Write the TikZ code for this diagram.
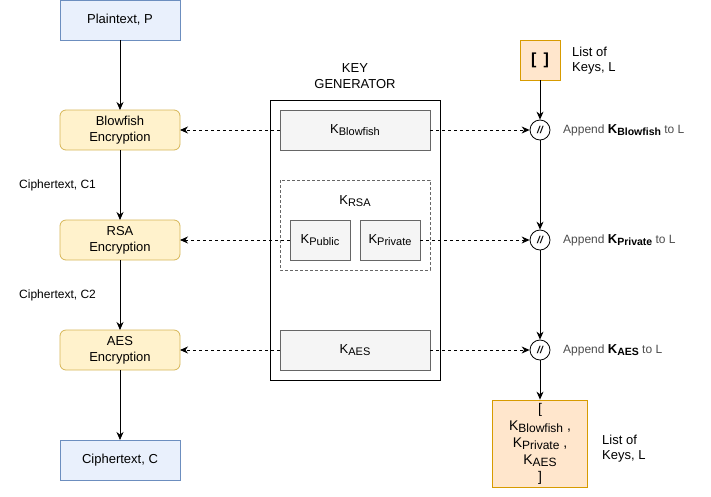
\documentclass[tikz,border=0pt]{standalone}
\usepackage{fontspec}
\setmainfont{Liberation Sans}
\usetikzlibrary{arrows.meta}
\definecolor{bluefill}{HTML}{E9F0FC}
\definecolor{bluedraw}{HTML}{6C8EBF}
\definecolor{yelfill}{HTML}{FFF2CC}
\definecolor{yeldraw}{HTML}{D6B656}
\definecolor{orfill}{HTML}{FFE6CC}
\definecolor{ordraw}{HTML}{D79B00}
\definecolor{greyfill}{HTML}{F5F5F5}
\definecolor{greydraw}{HTML}{666666}
\definecolor{softtext}{HTML}{4D4D4D}
\newcommand\Kreg[1]{K\raisebox{-0.35ex}{\fontsize{11}{11}\selectfont #1}}
\newcommand\Kbig[1]{K\raisebox{-0.35ex}{\fontsize{12}{12}\selectfont #1}}
\newcommand\Kbold[1]{{\color{black}\fontsize{13}{13}\selectfont\bfseries K\raisebox{-0.35ex}{\fontsize{10.5}{10.5}\selectfont\bfseries #1}}}
\begin{document}
\begin{tikzpicture}[x=1pt,y=-1pt,
  every node/.style={font=\fontsize{13}{16}\selectfont, inner sep=0pt},
  flowbox/.style={draw=bluedraw, fill=bluefill, line width=0.8pt},
  encbox/.style={draw=yeldraw, fill=yelfill, line width=0.8pt, rounded corners=6pt},
  keybox/.style={draw=greydraw, fill=greyfill, line width=0.8pt},
  listbox/.style={draw=ordraw, fill=orfill, line width=0.8pt},
  joint/.style={draw, circle, minimum size=20pt, line width=0.8pt, fill=white, font=\fontsize{10}{10}\selectfont\bfseries\itshape},
  sidelabel/.style={font=\fontsize{12}{14}\selectfont, anchor=west, align=left},
  appendlabel/.style={font=\fontsize{12}{14}\selectfont, anchor=west, text=softtext},
  flow/.style={line width=0.8pt, -{Stealth[length=8pt,width=7pt]}},
  keyflow/.style={line width=0.8pt, dash pattern=on 3pt off 3pt, -{Stealth[length=8pt,width=7pt]}}]
\useasboundingbox (0,0) rectangle (711,496);

% encryption pipeline
\path[flowbox] (60,0.6) rectangle (180,40);
\node (pt) at (120,20) {Plaintext, P};
\path[encbox] (60,110) rectangle (180,150);
\node[align=center] (bf) at (120,130) {Blowfish\\Encryption};
\path[encbox] (60,220) rectangle (180,260);
\node[align=center] (rsa) at (120,240) {RSA\\Encryption};
\path[encbox] (60,330) rectangle (180,370);
\node[align=center] (aes) at (120,350) {AES\\Encryption};
\path[flowbox] (60,440) rectangle (180,480);
\node (ct) at (120,460) {Ciphertext, C};
\coordinate (ptS) at (120,40);
\coordinate (bfN) at (120,110);
\coordinate (bfS) at (120,150);
\coordinate (bfE) at (180,130);
\coordinate (rsaN) at (120,220);
\coordinate (rsaS) at (120,260);
\coordinate (rsaE) at (180,240);
\coordinate (aesN) at (120,330);
\coordinate (aesS) at (120,370);
\coordinate (aesE) at (180,350);
\coordinate (ctN) at (120,440);
\node[sidelabel] (c1) at (19,185) {Ciphertext, C1};
\node[sidelabel] (c2) at (19,295) {Ciphertext, C2};

\draw[flow] (ptS) -- (bfN);
\draw[flow] (bfS) -- (rsaN);
\draw[flow] (rsaS) -- (aesN);
\draw[flow] (aesS) -- (ctN);

% key generator
\node[align=center] (kgt) at (355,76) {KEY\\GENERATOR};
\draw[line width=0.8pt] (270,100) rectangle (440,380);
\node[keybox, minimum width=150pt, minimum height=40pt] (kb) at (355,130) {\Kreg{Blowfish}};
\draw[greydraw, line width=0.6pt, dash pattern=on 3pt off 2pt] (280,180) rectangle (430,270);
\node (krsa) at (355,201) {\Kreg{RSA}};
\node[keybox, minimum width=60pt, minimum height=40pt] (kpub) at (320,240) {\Kreg{Public}};
\node[keybox, minimum width=60pt, minimum height=40pt] (kpriv) at (390,240) {\Kreg{Private}};
\node[keybox, minimum width=150pt, minimum height=40pt] (kaes) at (355,350) {\Kreg{AES}};

\draw[keyflow] (kb.west) -- (bfE);
\draw[keyflow] (kpub.west) -- (rsaE);
\draw[keyflow] (kaes.west) -- (aesE);

% list of keys
\node[listbox, minimum width=40pt, minimum height=40pt, font=\fontsize{16}{16}\selectfont\bfseries] (l0) at (540,60) {[\hspace{7pt}]};
\node[sidelabel, font=\fontsize{13}{15}\selectfont] (l0lab) at (572,61) {List of\\Keys, L};
\node[joint] (j1) at (540,130) {//};
\node[joint] (j2) at (540,240) {//};
\node[joint] (j3) at (540,350) {//};
\node[appendlabel] (a1) at (563,130) {Append \Kbold{Blowfish} to L};
\node[appendlabel] (a2) at (563,240) {Append \Kbold{Private} to L};
\node[appendlabel] (a3) at (563,350) {Append \Kbold{AES} to L};
\node[listbox, minimum width=95pt, minimum height=87pt, align=center, font=\fontsize{14}{17}\selectfont] (lf) at (540,443.5)
  {[\\\Kbig{Blowfish} ,\\\Kbig{Private} ,\\\Kbig{AES}\\]};
\node[sidelabel, font=\fontsize{13}{15}\selectfont] (lflab) at (602,449) {List of\\Keys, L};

\draw[flow] (l0.south) -- (j1.north);
\draw[flow] (j1.south) -- (j2.north);
\draw[flow] (j2.south) -- (j3.north);
\draw[flow] (j3.south) -- (lf.north);
\draw[keyflow] (kb.east) -- (j1.west);
\draw[keyflow] (kpriv.east) -- (j2.west);
\draw[keyflow] (kaes.east) -- (j3.west);
\end{tikzpicture}
\end{document}
